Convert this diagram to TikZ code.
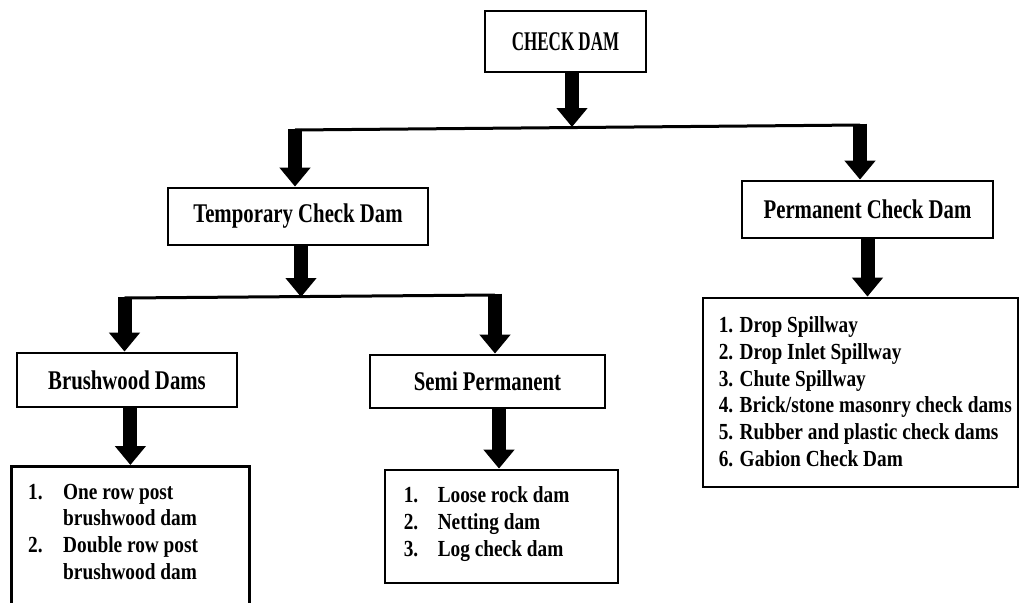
\documentclass[tikz,border=0pt]{standalone}
\usepackage{fontspec}
\setmainfont{Liberation Serif}[FakeStretch=0.84]
\newfontfamily\headfont{Liberation Serif}[FakeStretch=0.77]
\newfontfamily\capsfont{Liberation Serif}[FakeStretch=0.63]
\usetikzlibrary{arrows.meta}
\begin{document}
\begin{tikzpicture}[x=1pt,y=-1pt,
  box/.style={draw=black, line width=2.8pt, fill=white, inner sep=0pt},
  head/.style={box, font=\headfont\bfseries\fontsize{27}{32}\selectfont},
  listtext/.style={inner sep=0pt, font=\bfseries\fontsize{23}{26.7}\selectfont, anchor=base west},
  bigarrow/.style={line width=14pt, -{Triangle[width=30pt,length=19pt]}},
  bar/.style={line width=3pt}]
\useasboundingbox (0,0) rectangle (1019,602);
\clip (0,0) rectangle (1019,602);

% boxes
\node[box, font=\capsfont\bfseries\fontsize{27}{32}\selectfont, minimum width=161pt, minimum height=61pt] (checkdam) at (565.5,41.5) {CHECK DAM};
\node[head, minimum width=260pt, minimum height=57pt] (temp) at (298,216.5) {Temporary Check Dam};
\node[head, minimum width=251pt, minimum height=57pt] (perm) at (867.5,209.5) {Permanent Check Dam};
\node[head, minimum width=220pt, minimum height=54pt] (brush) at (127,380) {Brushwood Dams};
\node[head, minimum width=235pt, minimum height=53pt] (semi) at (487.5,381.5) {Semi Permanent};
\node[box, minimum width=238pt, minimum height=150pt, anchor=north west] (brushlist) at (10,465) {};
\node[box, minimum width=233pt, minimum height=113pt] (semilist) at (501.5,526.5) {};
\node[box, minimum width=315pt, minimum height=189pt] (permlist) at (860.5,392.5) {};

% list texts
\node[listtext] (brushitems) at ([xshift=18pt,yshift=-34pt]brushlist.north west)
  {\begin{tabular}[t]{@{}p{35pt}@{}l@{}}1. & One row post\\ & brushwood dam\\ 2. & Double row post\\ & brushwood dam\end{tabular}};
\node[listtext] (semiitems) at ([xshift=20pt,yshift=-34pt]semilist.north west)
  {\begin{tabular}[t]{@{}p{34pt}@{}l@{}}1. & Loose rock dam\\ 2. & Netting dam\\ 3. & Log check dam\end{tabular}};
\node[listtext] (permitems) at ([xshift=17pt,yshift=-36pt]permlist.north west)
  {\begin{tabular}[t]{@{}l@{}}1. Drop Spillway\\ 2. Drop Inlet Spillway\\ 3. Chute Spillway\\ 4. Brick/stone masonry check dams\\ 5. Rubber and plastic check dams\\ 6. Gabion Check Dam\end{tabular}};

% connectors
\coordinate (b1) at (572,127);
\coordinate (bl) at (295,130);
\coordinate (br) at (860,125);
\draw[bigarrow] (checkdam.south -| b1) -- (b1);
\draw[bar] (bl) -- (br);
\draw[bigarrow] ([yshift=1.5pt]bl) -- (bl |- temp.north);
\draw[bigarrow] ([yshift=1.5pt]br) -- (br |- perm.north);

\coordinate (c1) at (301,297);
\coordinate (cl) at (124.5,298);
\coordinate (cr) at (495,295);
\draw[bigarrow] (temp.south -| c1) -- (c1);
\draw[bar] (cl) -- (cr);
\draw[bigarrow] ([yshift=1.5pt]cl) -- (cl |- brush.north);
\draw[bigarrow] ([yshift=1.5pt]cr) -- (cr |- semi.north);

\draw[bigarrow] (brush.south -| brushlist.north) -- (brushlist.north);
\draw[bigarrow] ([xshift=-2.5pt]semi.south -| semilist.north) -- ([xshift=-2.5pt]semilist.north);
\draw[bigarrow] (perm.south) -- (perm.south |- permlist.north);
\end{tikzpicture}
\end{document}
